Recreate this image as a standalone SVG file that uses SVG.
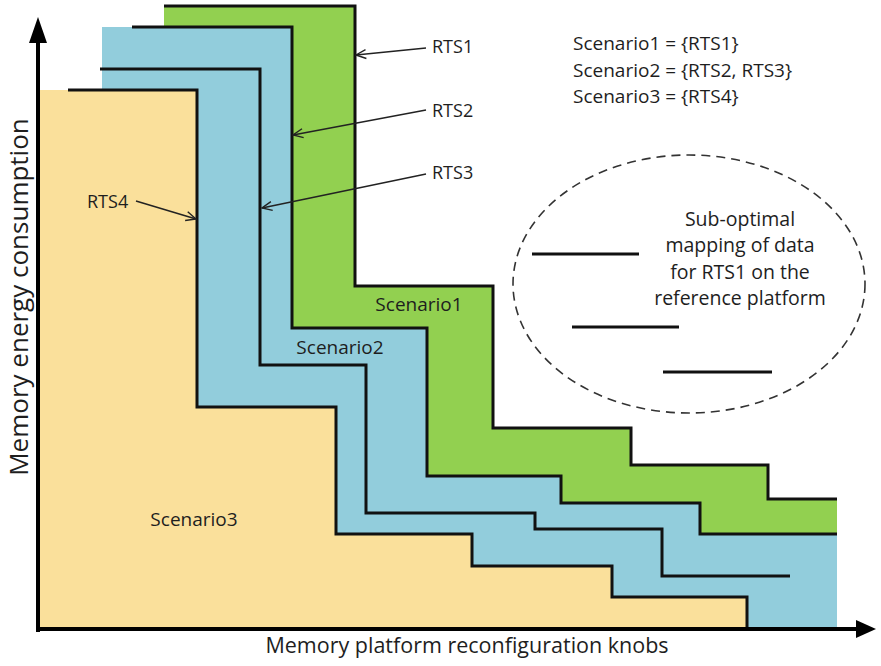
<svg xmlns="http://www.w3.org/2000/svg" width="881" height="666" viewBox="0 0 881 666">
  <style>
    .txt { font-family: "Open Sans", "Liberation Sans", sans-serif; fill: #1e1e1e; }
    .lbl { font-size: 19px; }
    .curve { fill: none; stroke: #111; stroke-width: 3; stroke-linejoin: miter; }
    .axis { fill: none; stroke: #000; stroke-width: 4; }
    .leader { fill: none; stroke: #222; stroke-width: 1.5; marker-end: url(#openArrow); }
    .mapline { stroke: #111; stroke-width: 3; }
  </style>
  <defs>
    <marker id="openArrow" viewBox="0 0 12 12" refX="11" refY="6" markerWidth="12" markerHeight="12" markerUnits="userSpaceOnUse" orient="auto">
      <path d="M1,1.5 L11,6 L1,10.5" fill="none" stroke="#222" stroke-width="1.4"/>
    </marker>
  </defs>

  <!-- scenario areas -->
  <g id="scenario1-area">
    <polygon fill="#92D050" points="164,6 355,6 355,286 493,286 493,428 631,428 631,465 768,465 768,499 837,499 837,560 164,560"/>
  </g>
  <g id="scenario2-area">
    <polygon fill="#92CDDC" points="102,27 292,27 292,328 427,328 427,476 561,476 561,503 700,503 700,534 837,534 837,630 102,630"/>
  </g>
  <g id="scenario3-area">
    <polygon fill="#FAE09B" points="38,90 197,90 197,407 336,407 336,534 472,534 472,566 612,566 612,597 747,597 747,630 38,630"/>
  </g>

  <!-- staircase curves -->
  <g id="rts1-curve">
    <polyline class="curve" points="164,6 355,6 355,286 493,286 493,428 631,428 631,465 768,465 768,499 837,499"/>
  </g>
  <g id="rts2-curve">
    <polyline class="curve" points="132,27 292,27 292,328 427,328 427,476 561,476 561,503 700,503 700,534 837,534"/>
  </g>
  <g id="rts3-curve">
    <polyline class="curve" points="100,69 260,69 260,365 366,365 366,513 535,513 535,529 662,529 662,576 790,576"/>
  </g>
  <g id="rts4-curve">
    <polyline class="curve" points="68,90 197,90 197,407 336,407 336,534 472,534 472,566 612,566 612,597 747,597 747,630"/>
  </g>

  <!-- axes -->
  <g id="axes">
    <line class="axis" x1="38" y1="632" x2="38" y2="40"/>
    <polygon fill="#000" points="38,17 47,43 29,43"/>
    <line class="axis" x1="36" y1="629" x2="860" y2="629"/>
    <polygon fill="#000" points="876,629 856,620 856,638"/>
  </g>

  <!-- area labels -->
  <g id="scenario1-label"><text class="txt lbl" x="419" y="311" text-anchor="middle">Scenario1</text></g>
  <g id="scenario2-label"><text class="txt lbl" x="340" y="354" text-anchor="middle">Scenario2</text></g>
  <g id="scenario3-label"><text class="txt lbl" x="194" y="526" text-anchor="middle">Scenario3</text></g>

  <!-- curve labels -->
  <g id="rts1-label"><text class="txt" font-size="18" x="432" y="53">RTS1</text></g>
  <g id="rts2-label"><text class="txt" font-size="18" x="432" y="117">RTS2</text></g>
  <g id="rts3-label"><text class="txt" font-size="18" x="432" y="179">RTS3</text></g>
  <g id="rts4-label"><text class="txt" font-size="18" x="87" y="208">RTS4</text></g>

  <!-- leader lines from labels to curves -->
  <g id="connectors">
    <line class="leader" x1="426" y1="48" x2="356" y2="55"/>
    <line class="leader" x1="426" y1="110" x2="293" y2="135"/>
    <line class="leader" x1="426" y1="174" x2="262" y2="208"/>
    <line class="leader" x1="136" y1="201" x2="196" y2="219"/>
  </g>

  <!-- legend -->
  <g id="legend" class="txt" font-size="19">
    <text x="573" y="50">Scenario1 = {RTS1}</text>
    <text x="573" y="77">Scenario2 = {RTS2, RTS3}</text>
    <text x="573" y="103">Scenario3 = {RTS4}</text>
  </g>

  <!-- dashed callout -->
  <g id="suboptimal-note">
    <ellipse cx="689" cy="284" rx="176" ry="129" fill="none" stroke="#333" stroke-width="1.6" stroke-dasharray="9,6"/>
    <line class="mapline" x1="532" y1="254" x2="639" y2="254"/>
    <line class="mapline" x1="572" y1="327" x2="679" y2="327"/>
    <line class="mapline" x1="663" y1="372" x2="772" y2="372"/>
    <g class="txt" font-size="19.5" text-anchor="middle">
      <text x="740" y="226">Sub-optimal</text>
      <text x="740" y="252">mapping of data</text>
      <text x="740" y="279">for RTS1 on the</text>
      <text x="740" y="305">reference platform</text>
    </g>
  </g>

  <!-- axis titles -->
  <g id="x-axis-title"><text class="txt" font-size="21.5" x="467" y="653" text-anchor="middle">Memory platform reconfiguration knobs</text></g>
  <g id="y-axis-title"><text class="txt" font-size="26" x="0" y="0" text-anchor="middle" transform="translate(28,297) rotate(-90)">Memory energy consumption</text></g>
</svg>
